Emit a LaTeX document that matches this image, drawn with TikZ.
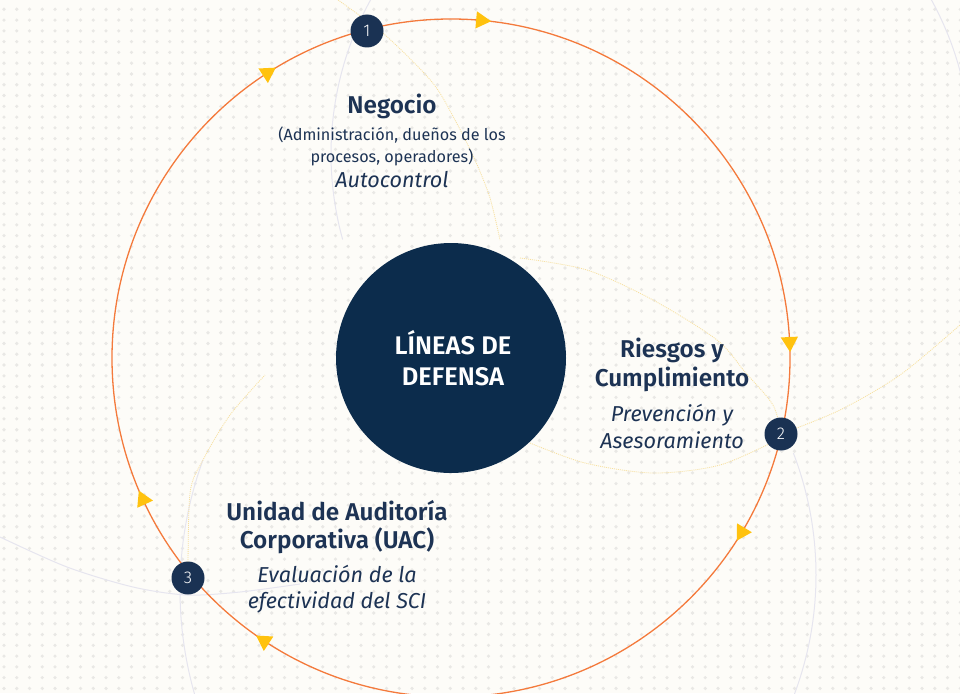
\documentclass[tikz,border=0pt]{standalone}
\usepackage{fontspec}
\setmainfont{Fira Sans}[BoldFont={Fira Sans SemiBold}]
\newfontfamily\numfont{Fira Sans Light}
\usetikzlibrary{calc}
\definecolor{bgc}{HTML}{FDFCF8}
\definecolor{dotc}{HTML}{E9E8E5}
\definecolor{orangec}{HTML}{F47A3C}
\definecolor{yellowc}{HTML}{FFC20E}
\definecolor{navyc}{HTML}{0C2C4C}
\definecolor{numc}{HTML}{1A3253}
\definecolor{textc}{HTML}{1D3354}
\definecolor{greyarc}{HTML}{E6E5EF}
\definecolor{yelarc}{HTML}{F7E0A0}
\begin{document}
\begin{tikzpicture}[x=1pt,y=-1pt,
  titletext/.style={anchor=base, text=textc, inner sep=0pt, font=\fontsize{24.3}{28}\selectfont\bfseries},
  bodytext/.style={anchor=base, text=textc, inner sep=0pt, font=\fontsize{16.2}{19}\selectfont},
  ittext/.style={anchor=base, text=textc, inner sep=0pt, font=\fontsize{21.6}{25}\selectfont\itshape},
  coretext/.style={anchor=base, text=white, inner sep=0pt, font=\fontsize{25.5}{29}\selectfont\bfseries},
  numnode/.style={circle, fill=numc, minimum size=33pt, inner sep=0pt, text=white, font=\numfont\fontsize{17}{17}\selectfont},
  greyline/.style={draw=greyarc, line width=1pt},
  yelline/.style={draw=yelarc, line width=0.8pt, dash pattern=on 1pt off 1pt},
  ring/.style={draw=orangec, line width=1.3pt},
  tri/.style={fill=yellowc}
]
\useasboundingbox (0,0) rectangle (960,693);
\fill[bgc] (0,0) rectangle (960,693);
% dot grid
\foreach \i in {0,...,75}{\foreach \j in {0,...,63}{\fill[dotc] (4+12.75*\i,9.3+10.78*\j) circle (1.8pt);}}
% faint decorative arcs
\draw[greyline] plot[domain=164.5:208.8, samples=40] ({651+320*cos(\x)},{154+320*sin(\x)});
\draw[greyline] plot[domain=-29:-12, samples=20] ({651+320*cos(\x)},{154+320*sin(\x)});
\draw[greyline] plot[domain=164:200, samples=40] ({560+380*cos(\x)},{590+380*sin(\x)});
\draw[greyline] plot[domain=-21:22, samples=40] ({476+340*cos(\x)},{575+340*sin(\x)});
\draw[greyline] plot[smooth] coordinates {(0,537) (67,567) (133,587) (187,595) (240,592) (300,584)};
\draw[yelline] plot[smooth] coordinates {(338,0) (385,35) (432,82) (455,120) (475,160) (490,198) (500,240)};
\draw[yelline] plot[smooth] coordinates {(520,258) (587,270) (653,300) (717,340) (745,372) (773,405) (781,434)};
\draw[yelline] plot[smooth] coordinates {(781,434) (840,410) (900,375) (960,325)};
\draw[yelline] plot[smooth] coordinates {(530,443) (585,463) (653,473) (720,465) (781,438)};
\draw[yelline] plot[smooth] coordinates {(188,578) (190,493) (203,460) (230,415) (265,375)};
% main ring
\coordinate (C) at (451,358);
\draw[ring] (C) circle (339pt);
% arrow triangles
\foreach \a in {-84.9,-122.8,-2.7,30.9,155.3,123.4}{
  \fill[tri] ($(C)+(\a:339)+(\a+90:10)$) -- ($(C)+(\a:339)+(\a+210:10)$) -- ($(C)+(\a:339)+(\a+330:10)$) -- cycle;
}
% core circle
\node[circle, fill=navyc, minimum size=230pt, inner sep=0pt] (core) at (451,358) {};
\node[coretext] (ctr1) at (453,354) {LÍNEAS DE};
\node[coretext] (ctr2) at (453,385) {DEFENSA};
% number nodes
\node[numnode] (n1) at (367,31) {1};
\node[numnode] (n2) at (781,434) {2};
\node[numnode] (n3) at (188,578) {3};
% Negocio
\node[titletext] (neg1) at (392,113) {Negocio};
\node[bodytext] (neg2) at (392,140) {(Administración, dueños de los};
\node[bodytext] (neg3) at (392,162) {procesos, operadores)};
\node[ittext] (neg4) at (392,187) {Autocontrol};
% Riesgos
\node[titletext] (rie1) at (672,357) {Riesgos y};
\node[titletext] (rie2) at (672,386) {Cumplimiento};
\node[ittext] (rie3) at (672,421) {Prevención y};
\node[ittext] (rie4) at (672,448) {Asesoramiento};
% UAC
\node[titletext] (uac1) at (337,520) {Unidad de Auditoría};
\node[titletext] (uac2) at (337,548) {Corporativa (UAC)};
\node[ittext] (uac3) at (337,582) {Evaluación de la};
\node[ittext] (uac4) at (337,608) {efectividad del SCI};
\end{tikzpicture}
\end{document}
